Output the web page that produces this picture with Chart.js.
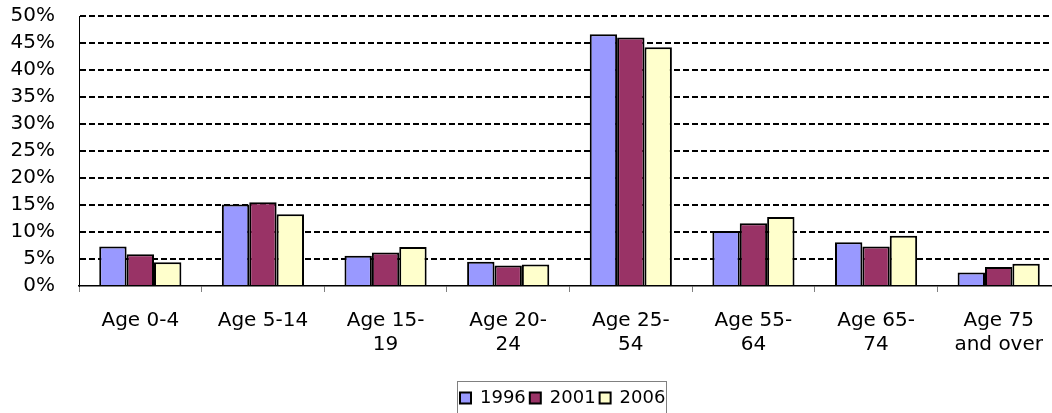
<!DOCTYPE html>
<html>
<head>
<meta charset="utf-8">
<script src="https://cdn.jsdelivr.net/npm/chart.js@4.4.1/dist/chart.umd.min.js"></script>
<style>
  html, body { margin:0; padding:0; background:#fff; overflow:hidden; }
  #wrap { width:1052px; height:413px; overflow:hidden; position:relative; }
  #chart { position:absolute; left:0; top:0; }
</style>
</head>
<body>
<div id="wrap"><canvas id="chart" width="1064" height="417"></canvas></div>
<script>
// Age groups (multi-line labels like the original)
const categories = [
  ['Age 0-4'], ['Age 5-14'], ['Age 15-', '19'], ['Age 20-', '24'],
  ['Age 25-', '54'], ['Age 55-', '64'], ['Age 65-', '74'], ['Age 75', 'and over']
];
const years = ['1996', '2001', '2006'];

// share of population, %
const share1996 = [7.3, 15.1, 5.6, 4.5, 46.6, 10.2, 8.1, 2.5];
const share2001 = [5.9, 15.5, 6.2, 3.8, 46.0, 11.6, 7.3, 3.5];
const share2006 = [4.4, 13.3, 7.2, 4.0, 44.2, 12.8, 9.3, 4.1];

const yTicks = [0, 5, 10, 15, 20, 25, 30, 35, 40, 45, 50];

const colors = ['#9999FF', '#993366', '#FFFFCC'];
const FONT = 'DejaVu Sans, Verdana, sans-serif';

// legend sits a bit right of centre in the original, and has a frame
const legendFrame = {
  id: 'legendFrame',
  afterLayout(chart) {
    const lg = chart.legend;
    if (!lg || !lg.lineWidths) return;
    const pad = lg.options.labels.padding;
    const start = (lg.left + pad + lg.right - lg.lineWidths[0]) / 2;
    const shift = 460 - start;
    lg.left += shift;
    lg.right += shift;
  },
  afterDraw(chart) {
    const lg = chart.legend;
    if (!lg || !lg.legendHitBoxes.length) return;
    const hb = lg.legendHitBoxes;
    const first = hb[0], last = hb[hb.length - 1];
    const cy = first.top + first.height / 2;
    const ctx = chart.ctx;
    ctx.save();
    ctx.strokeStyle = '#808080';
    ctx.lineWidth = 1;
    ctx.strokeRect(Math.round(first.left - 3) + 0.5, Math.round(cy - 17) + 0.5,
      Math.round(last.left + last.width - first.left + 4), 34);
    ctx.restore();
  }
};

new Chart(document.getElementById('chart'), {
  type: 'bar',
  data: {
    labels: categories,
    datasets: [
      { label: years[0], data: share1996, backgroundColor: colors[0] },
      { label: years[1], data: share2001, backgroundColor: colors[1] },
      { label: years[2], data: share2006, backgroundColor: colors[2] }
    ].map(d => Object.assign(d, {
      borderColor: '#000', borderWidth: 2,
      categoryPercentage: 0.67, barPercentage: 1
    }))
  },
  options: {
    responsive: false, animation: false, devicePixelRatio: 1,
    layout: { padding: { top: 0, right: 4, left: 0, bottom: 0 } },
    plugins: {
      tooltip: { enabled: false },
      legend: {
        position: 'bottom',
        labels: {
          color: '#000', boxWidth: 11, boxHeight: 11, padding: 4,
          font: { family: FONT, size: 18 }
        }
      }
    },
    scales: {
      x: {
        grid: { drawOnChartArea: false, drawTicks: true, tickLength: 6, color: '#808080', offset: true },
        border: { color: '#000', width: 1.5 },
        ticks: { color: '#000', padding: 17, maxRotation: 0, autoSkip: false,
                 font: { family: FONT, size: 20, lineHeight: 1.2 } },
        afterFit(s) { s.height = 99; }
      },
      y: {
        min: 0, max: 50,
        afterBuildTicks(s) { s.ticks = yTicks.map(v => ({ value: v })); },
        grid: {
          drawTicks: false, tickLength: 0, lineWidth: 2,
          color: c => c.tick && c.tick.value === 0 ? 'rgba(0,0,0,0)' : '#000'
        },
        border: { color: '#000', width: 1, dash: [6, 3] },
        ticks: { color: '#000', padding: 24, autoSkip: false, callback: v => v + '%',
                 font: { family: FONT, size: 20 } },
        afterFit(s) { s.width = 79; s.paddingTop = 16; s.paddingBottom = 0; }
      }
    }
  },
  plugins: [legendFrame]
});
</script>
</body>
</html>
